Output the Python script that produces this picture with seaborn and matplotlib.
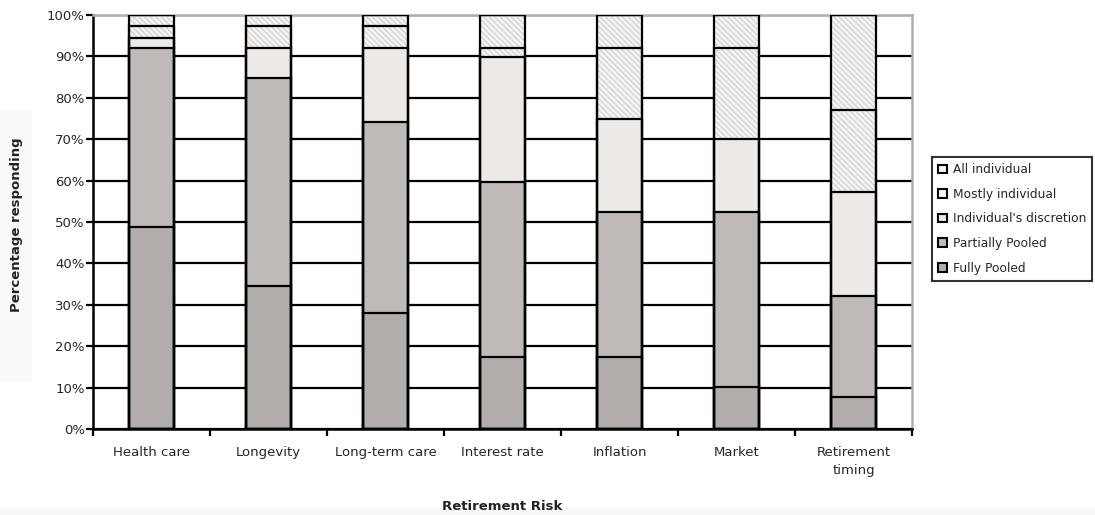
import matplotlib
matplotlib.use("Agg")
import matplotlib.pyplot as plt
from matplotlib.patches import Patch, Rectangle
import numpy as np
import pandas as pd
import seaborn as sns

# ── data (percent of respondents) ─────────────────────
categories = ["Health care", "Longevity", "Long-term care", "Interest rate",
              "Inflation", "Market", "Retirement\ntiming"]
fully_pooled      = [48.7, 34.6, 28.0, 17.4, 17.4, 10.1, 7.7]
partially_pooled  = [43.3, 50.2, 46.2, 42.3, 35.0, 42.3, 24.4]
ind_discretion    = [2.5, 7.2, 17.8, 30.2, 22.5, 17.6, 25.1]
mostly_individual = [2.8, 5.3, 5.3, 2.1, 17.1, 22.0, 19.9]
all_individual    = [2.7, 2.7, 2.7, 8.0, 8.0, 8.0, 22.9]

series_names = ["Fully Pooled", "Partially Pooled", "Individual's discretion",
                "Mostly individual", "All individual"]
series_vals = [fully_pooled, partially_pooled, ind_discretion,
               mostly_individual, all_individual]

# fill, hatch, hatch colour
styles = {
    "Fully Pooled":            ("#b2acaa", "", "#b2acaa"),
    "Partially Pooled":        ("#bfbab8", "", "#bfbab8"),
    "Individual's discretion": ("#ece9e7", "", "#ece9e7"),
    "Mostly individual":       ("#f6f5f4", "\\" * 6, "#d6d2d0"),
    "All individual":          ("#f6f5f4", "\\" * 6, "#d6d2d0"),
}

rows = []
for name, vals in zip(series_names, series_vals):
    for cat, v in zip(categories, vals):
        rows.append({"risk": cat, "series": name, "value": v})
df = pd.DataFrame(rows)
df["cum"] = df.groupby("risk", sort=False)["value"].cumsum()

sns.set_theme(style="ticks")
plt.rcParams["font.family"] = ["DejaVu Sans"]
plt.rcParams["hatch.linewidth"] = 1.0

fig = plt.figure(figsize=(10.95, 5.15), dpi=100)
fig.patch.set_facecolor("white")
# faint panels behind the axis titles
fig.patches.append(Rectangle((0, 0), 1, 7 / 515, transform=fig.transFigure,
                             facecolor="#f7f7f7", edgecolor="none", zorder=0))
fig.patches.append(Rectangle((0, 133 / 515), 32 / 1095, 272 / 515,
                             transform=fig.transFigure,
                             facecolor="#f9f9f9", edgecolor="none", zorder=0))

ax = fig.add_axes([93 / 1095, 86 / 515, 819 / 1095, 414 / 515])

# ── stacked bars: draw cumulative totals, tallest first ──
for name in reversed(series_names):
    fc, hatch, hc = styles[name]
    sub = df[df["series"] == name]
    n_before = len(ax.patches)
    sns.barplot(data=sub, x="risk", y="cum", color=fc, saturation=1,
                width=0.39, errorbar=None, linewidth=0, ax=ax,
                order=categories)
    for p in ax.patches[n_before:]:
        p.set_edgecolor(hc)
        p.set_linewidth(0)
        if hatch:
            p.set_hatch(hatch)

for p in list(ax.patches):
    ax.add_patch(Rectangle(p.get_xy(), p.get_width(), p.get_height(),
                           fill=False, edgecolor="black", linewidth=1.6,
                           zorder=3))

# ── axes styling ─────────────────────────────────────
ax.set_ylim(0, 100)
ax.set_xlim(-0.5, len(categories) - 0.5)
ax.set_yticks(np.arange(0, 101, 10))
ax.set_yticklabels([f"{t}%" for t in range(0, 101, 10)], fontsize=9.5)
ax.yaxis.grid(True, color="black", linewidth=1.6)
ax.set_axisbelow(True)

ax.set_xticks(np.arange(-0.5, len(categories), 1.0))
ax.set_xticklabels([])
ax.set_xticks(np.arange(len(categories)), minor=True)
ax.set_xticklabels(categories, minor=True, fontsize=9.5, linespacing=1.5)
ax.tick_params(axis="x", which="minor", length=0, pad=12)
ax.tick_params(axis="x", which="major", length=5, width=1.6, color="black",
               direction="out")
ax.tick_params(axis="y", length=5, width=1.6, color="black", direction="out",
               pad=1)

for side in ["left", "bottom"]:
    ax.spines[side].set_color("black")
    ax.spines[side].set_linewidth(1.8)
for side in ["top", "right"]:
    ax.spines[side].set_visible(True)
    ax.spines[side].set_color("#b3adad")
    ax.spines[side].set_linewidth(1.8)

ax.set_xlabel("")
ax.set_ylabel("")
fig.text(502 / 1095, 1 - 506 / 515, "Retirement Risk", ha="center", va="center",
         fontsize=9.5, fontweight="semibold", color="#222222")
fig.text(17 / 1095, 1 - 225 / 515, "Percentage responding", ha="center",
         va="center", rotation=90, fontsize=9.5, fontweight="semibold",
         color="#222222")

# ── legend ───────────────────────────────────────────
handles = []
for name in reversed(series_names):
    fc, hatch, hc = styles[name]
    handles.append(Patch(facecolor=fc, edgecolor="black", linewidth=1.5,
                         label=name))
leg = fig.legend(handles=handles, loc="upper left",
                 bbox_to_anchor=(932 / 1095, 1 - 157 / 515),
                 bbox_transform=fig.transFigure, fontsize=8.8,
                 frameon=True, fancybox=False, handlelength=0.7,
                 handleheight=0.7, handletextpad=0.5, labelspacing=0.95,
                 borderpad=0.5, borderaxespad=0)
leg.get_frame().set_edgecolor("black")
leg.get_frame().set_linewidth(1.5)

fig.savefig("out.png", dpi=100)
